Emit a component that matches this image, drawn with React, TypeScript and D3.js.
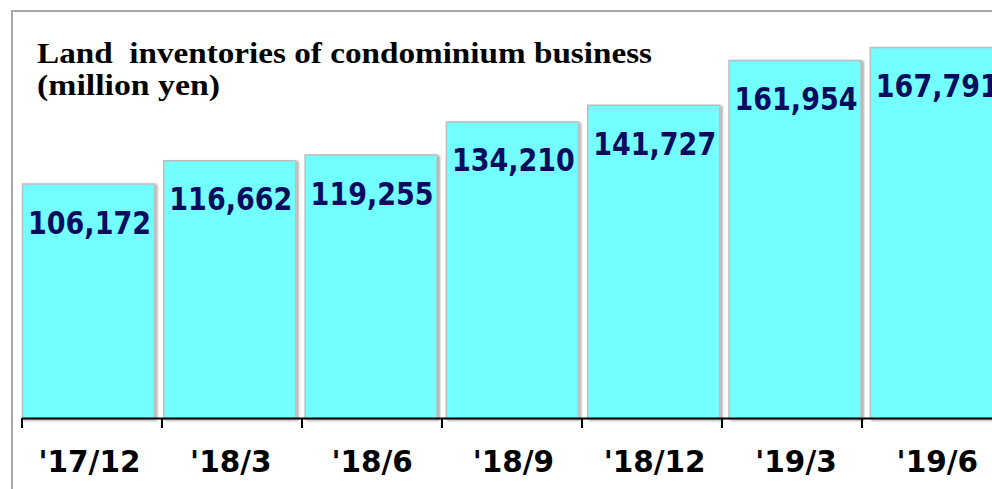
import React from "react";
import * as d3 from "d3";

const categories = ["'17/12", "'18/3", "'18/6", "'18/9", "'18/12", "'19/3", "'19/6"];
const values = [106172, 116662, 119255, 134210, 141727, 161954, 167791];
const titleLines = ["Land  inventories of condominium business", "(million yen)"];

const W = 992;
const H = 489;

export default function App() {
  const x = d3.scaleBand<string>().domain(categories).range([22, 22 + 7 * 141.3]).padding(0);
  const xt = d3.scaleBand<string>().domain(categories).range([22, 1002]).padding(0);
  const y = d3.scaleLinear().domain([0, 106172]).range([419, 184]);
  const bw = x.bandwidth();
  const fmt = d3.format(",");
  const boundaries = categories.map((c) => xt(c) as number);

  return (
    <svg width={W} height={H} style={{ position: "absolute", left: 0, top: 0, background: "#fff" }}>
      <defs>
        <filter id="sh" x="-10%" y="-10%" width="130%" height="130%">
          <feGaussianBlur in="SourceAlpha" stdDeviation="1.2" />
          <feOffset dx="1.5" dy="1" result="b" />
          <feComponentTransfer>
            <feFuncA type="linear" slope="0.35" />
          </feComponentTransfer>
          <feMerge>
            <feMergeNode />
            <feMergeNode in="SourceGraphic" />
          </feMerge>
        </filter>
      </defs>
      <rect x={0} y={0} width={W} height={H} fill="#fff" />
      <rect x={12} y={11} width={W + 20} height={H + 20} fill="none" stroke="#a8a8a8" strokeWidth={2} />
      {categories.map((c, i) => {
        const x0 = (x(c) as number) + 0.5;
        const yt = y(values[i]);
        const w = 132;
        return (
          <g key={c}>
            <rect
              x={x0}
              y={yt}
              width={w}
              height={419 - yt}
              fill="#73ffff"
              stroke="#bdbdbd"
              strokeWidth={1.5}
              filter="url(#sh)"
            />
            <text
              x={x0 + w / 2 + 1}
              y={yt + 49.5}
              textAnchor="middle"
              fontFamily="'DejaVu Sans', Verdana, sans-serif"
              fontWeight="bold"
              fontSize={32}
              fill="#0b0b60"
              textLength={123}
              lengthAdjust="spacingAndGlyphs"
            >
              {fmt(values[i])}
            </text>
            <text
              x={x0 + w / 2 + 1}
              y={472}
              textAnchor="middle"
              fontFamily="'DejaVu Sans', Verdana, sans-serif"
              fontWeight="bold"
              fontSize={29.5}
              fill="#000"
            >
              {c}
            </text>
          </g>
        );
      })}
      <line x1={22} x2={W} y1={418.5} y2={418.5} stroke="#000" strokeWidth={2} />
      {boundaries.map((b, i) => (
        <line key={i} x1={b} x2={b} y1={418} y2={428} stroke="#000" strokeWidth={2} />
      ))}
      <text
        x={37}
        y={63}
        fontFamily="'Liberation Serif', 'Times New Roman', serif"
        fontWeight="bold"
        fontSize={29}
        fill="#000"
        textLength={615}
        lengthAdjust="spacingAndGlyphs"
        style={{ whiteSpace: "pre" }}
      >
        {titleLines[0]}
      </text>
      <text
        x={37}
        y={95}
        fontFamily="'Liberation Serif', 'Times New Roman', serif"
        fontWeight="bold"
        fontSize={29}
        fill="#000"
        textLength={183}
        lengthAdjust="spacingAndGlyphs"
        style={{ whiteSpace: "pre" }}
      >
        {titleLines[1]}
      </text>
    </svg>
  );
}
